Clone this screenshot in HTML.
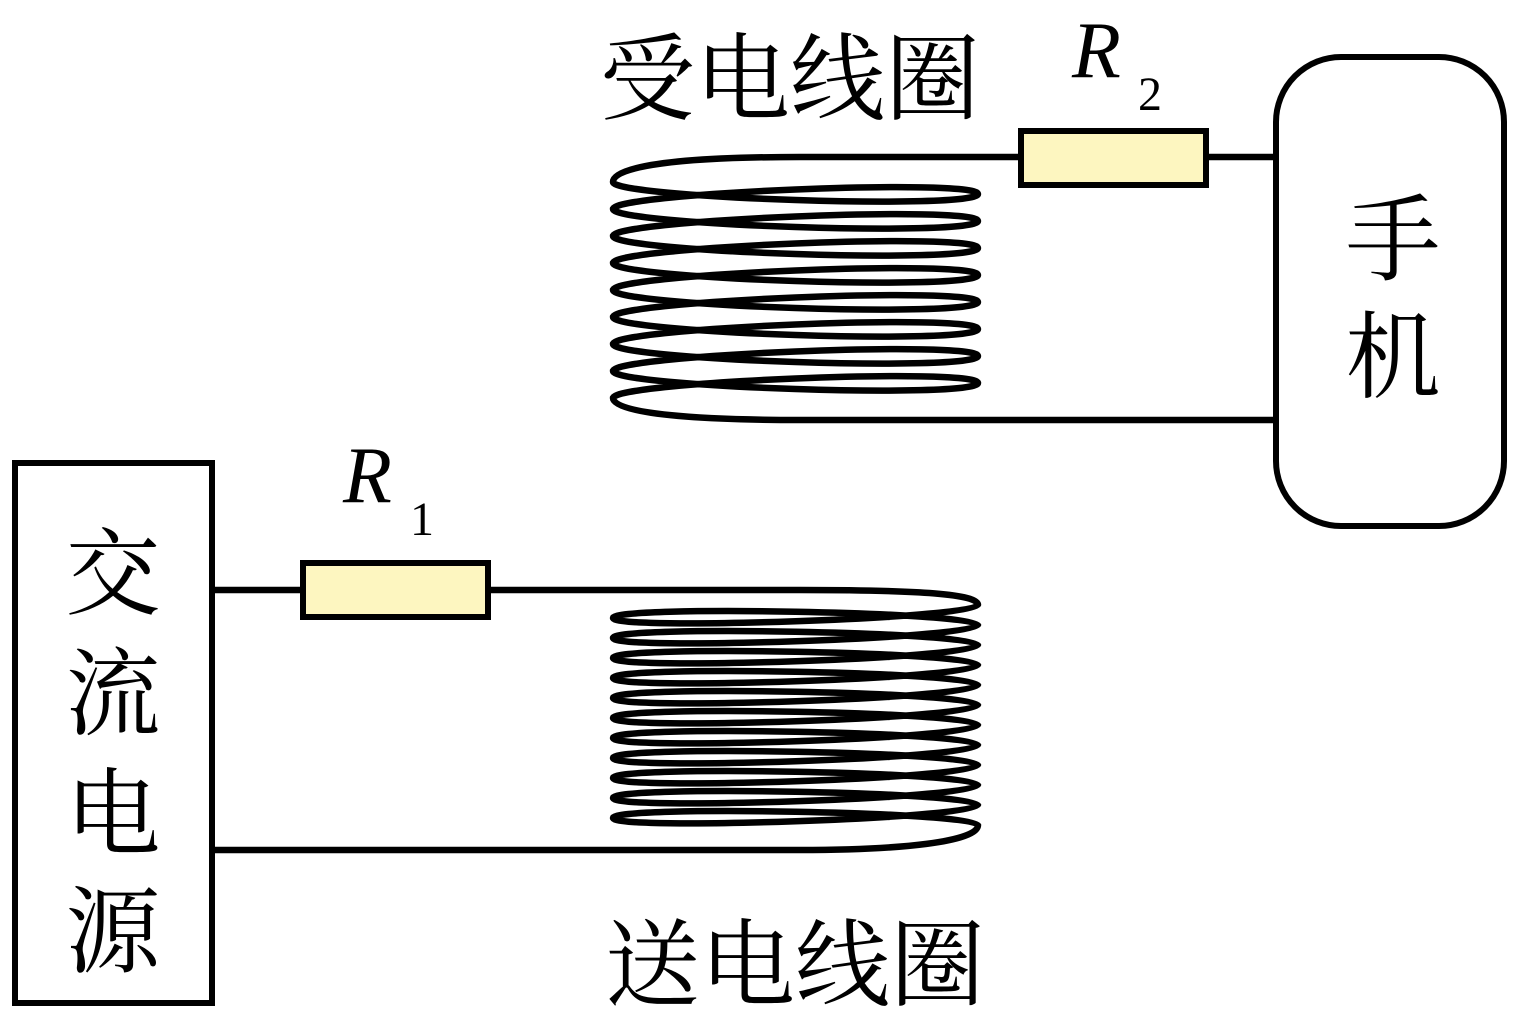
<!DOCTYPE html>
<html><head><meta charset="utf-8"><style>
html,body{margin:0;padding:0;background:#fff;}
svg{display:block;}
.cj{font-family:"Liberation Serif","Noto Serif CJK SC",serif;font-size:95px;fill:#000;}
.r{font-family:"Liberation Serif",serif;font-style:italic;font-size:80px;}
.s{font-family:"Liberation Serif",serif;font-size:48px;}
</style></head><body>
<svg width="1517" height="1019" viewBox="0 0 1517 1019" xmlns="http://www.w3.org/2000/svg">
<g fill="none" stroke="#000" stroke-width="6.5">
<path d="M1020 157 L800 157 C680 157 613 166 613 182
C613 198 978 210 978 194 C978 178 613 193 613 209
C613 225 978 237 978 221 C978 205 613 220 613 236
C613 252 978 264 978 248 C978 232 613 247 613 263
C613 279 978 291 978 275 C978 259 613 274 613 290
C613 306 978 318 978 302 C978 286 613 301 613 317
C613 333 978 345 978 329 C978 313 613 328 613 344
C613 360 978 372 978 356 C978 340 613 355 613 371
C613 387 978 399 978 383 C978 367 613 382 613 398
C613 414 700 420 800 420 L1275 420"/>
<path d="M489 590 L800 590 C920 590 978 594 978 605
C978 618 613 631 613 618 C613 605 978 612 978 625
C978 638 613 651 613 638 C613 625 978 632 978 645
C978 658 613 671 613 658 C613 645 978 652 978 665
C978 678 613 691 613 678 C613 665 978 672 978 685
C978 698 613 711 613 698 C613 685 978 692 978 705
C978 718 613 731 613 718 C613 705 978 712 978 725
C978 738 613 751 613 738 C613 725 978 732 978 745
C978 758 613 771 613 758 C613 745 978 752 978 765
C978 778 613 791 613 778 C613 765 978 772 978 785
C978 798 613 811 613 798 C613 785 978 792 978 805
C978 818 613 831 613 818 C613 805 978 812 978 825
C978 842 900 850 800 850 L213 850"/>
<line x1="1207" y1="157" x2="1275" y2="157"/>
<line x1="213" y1="590" x2="301" y2="590"/>
</g>
<rect x="15" y="463" width="197" height="540" fill="none" stroke="#000" stroke-width="6"/>
<rect x="1276" y="57" width="228" height="469" rx="65" ry="65" fill="none" stroke="#000" stroke-width="6"/>
<rect x="1021" y="131" width="185" height="54" fill="#fdf6c0" stroke="#000" stroke-width="6"/>
<rect x="303" y="563" width="185" height="54" fill="#fdf6c0" stroke="#000" stroke-width="6"/>
<text class="cj" x="113" y="607" text-anchor="middle">交</text>
<text class="cj" x="113" y="727" text-anchor="middle">流</text>
<text class="cj" x="113" y="847" text-anchor="middle">电</text>
<text class="cj" x="113" y="965" text-anchor="middle">源</text>
<text class="cj" x="1393" y="273" text-anchor="middle">手</text>
<text class="cj" x="1393" y="390" text-anchor="middle">机</text>
<text class="cj" x="790" y="112" text-anchor="middle">受电线圈</text>
<text class="cj" x="795" y="998" text-anchor="middle">送电线圈</text>
<text class="r" x="1072" y="77">R</text>
<text class="s" x="1138" y="110">2</text>
<text class="r" x="343" y="502">R</text>
<text class="s" x="410" y="535">1</text>
</svg>
</body></html>
